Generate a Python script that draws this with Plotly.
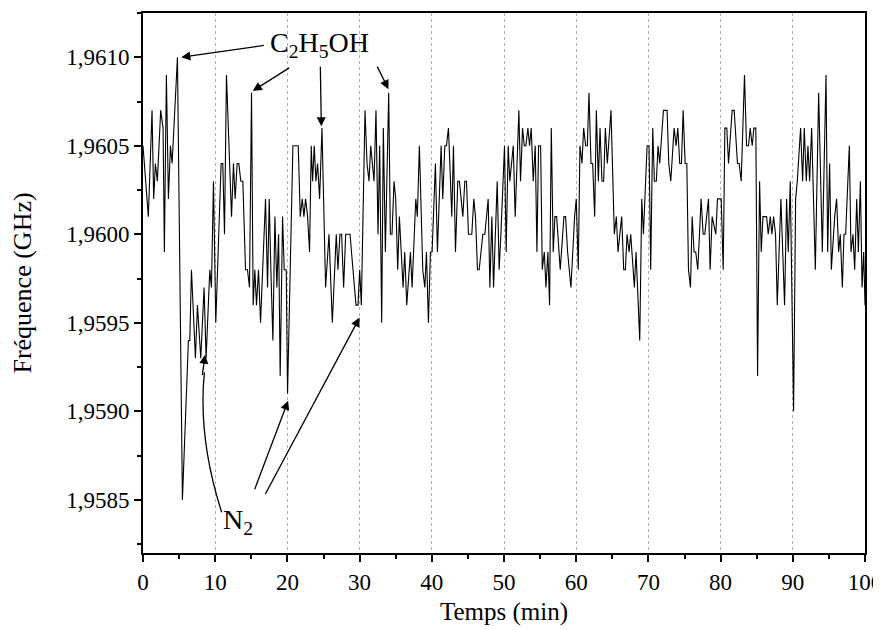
import plotly.graph_objects as go

# time (min) of each visible vertex of the trace
temps = [
    0.00, 0.74, 1.25, 1.48, 1.72, 1.99, 2.45, 2.78, 2.96, 3.24, 3.52, 3.80, 4.03, 4.77, 5.46,
    6.29, 6.48, 6.71, 7.26, 7.54, 8.00, 8.46, 8.74, 9.25, 9.48, 9.76, 10.08, 10.82, 11.05,
    11.29, 11.56, 12.26, 12.53, 12.76, 13.04, 13.27, 13.55, 13.83, 14.20, 14.47, 14.75, 15.03,
    15.26, 15.49, 15.72, 16.00, 16.28, 16.69, 16.97, 17.25, 17.48, 17.71, 17.99, 18.27, 18.54,
    18.78, 19.00, 19.33, 19.56, 19.84, 20.02, 20.76, 21.04, 21.50, 21.78, 22.06, 22.29, 22.52,
    22.80, 23.07, 23.30, 23.49, 23.72, 23.95, 24.18, 24.46, 24.79, 25.29, 25.76, 26.22, 26.77,
    27.00, 27.28, 27.51, 27.79, 28.07, 28.67,
    29.50, 29.78, 30.01, 30.24, 30.75, 31.03, 31.30, 31.54, 32.00, 32.27, 32.55, 32.78, 33.06,
    33.29, 33.57, 34.03, 34.26, 34.49, 34.77, 35.00, 35.28, 35.51, 35.79, 36.02, 36.25, 36.53,
    37.04, 37.27, 37.78, 38.00, 38.28, 38.75, 39.03, 39.26, 39.53, 39.81, 40.04, 40.50, 40.78,
    41.29, 41.52, 41.80, 42.03, 42.31,
    42.77, 43.00, 43.28, 43.60, 43.83, 44.30, 44.57, 44.80, 45.08, 45.54, 45.82, 46.05, 46.33,
    46.56, 47.07, 47.35, 47.81, 48.04, 48.32, 48.55, 49.06, 49.33, 49.57, 50.07, 50.30, 50.58,
    50.81, 51.28, 51.55, 52.06, 52.29, 52.57, 52.80, 53.03, 53.31, 53.54, 53.77, 54.05, 54.33,
    54.56, 54.79, 55.07, 55.30, 55.58, 55.81, 56.08, 56.31, 56.55, 56.82,
    57.05, 57.29, 57.79, 58.30, 58.53, 58.81, 59.27, 59.78, 60.01, 60.29, 60.52, 60.80, 61.03,
    61.31, 61.54, 61.77, 62.05, 62.28, 62.56, 62.79, 63.07, 63.30, 63.57, 63.80, 64.04, 64.31,
    64.82, 65.28, 65.56, 65.79, 66.30, 66.58, 66.81, 67.04, 67.32, 67.55, 68.06, 68.29, 68.80,
    69.08, 69.31, 69.82, 70.09, 70.32, 70.60, 70.83,
    71.10, 71.34, 71.57, 72.08, 72.59, 72.82, 73.10, 73.56, 73.84, 74.07, 74.34, 74.58, 74.81,
    75.09, 75.32, 75.55, 75.83, 76.06, 76.33, 76.56, 76.84, 77.30, 77.58, 77.81, 78.32, 78.55,
    78.83, 79.34, 79.57, 80.08, 80.36, 80.59, 80.86, 81.10, 81.60, 81.88, 82.34, 82.57, 82.85,
    83.31, 83.59, 83.87, 84.10, 84.38, 84.61, 84.88, 85.12, 85.40,
    85.63, 85.86, 86.09, 86.37, 86.60, 86.88, 87.10, 87.34, 87.61, 87.85, 88.35, 88.86, 89.14,
    89.37, 89.65, 90.11, 90.39, 90.62, 91.08, 91.36, 91.59, 91.87, 92.10, 92.33, 92.61, 93.12,
    93.58, 94.09, 94.60, 94.83, 95.10, 95.34, 95.80, 96.07, 96.35, 96.58, 96.86, 97.09, 97.32,
    97.83, 98.06, 98.34, 98.57, 98.85, 99.08, 99.36, 99.59, 99.82, 100.00,
]

# frequency (GHz) at each vertex
frequence = [
    1.9605, 1.9601, 1.9607, 1.9602, 1.9604, 1.9603, 1.9607, 1.9606, 1.9599, 1.9609, 1.9602, 1.9605, 1.9604, 1.9610, 1.9585,
    1.9594, 1.9594, 1.9598, 1.9593, 1.9596, 1.9593, 1.9597, 1.9593, 1.9598, 1.9597, 1.9603, 1.9595, 1.9604, 1.9604,
    1.9600, 1.9609, 1.9601, 1.9604, 1.9602, 1.9604, 1.9604, 1.9603, 1.9603, 1.9598, 1.9598, 1.9597, 1.9608,
    1.9596, 1.9598, 1.9596, 1.9598, 1.9595, 1.9599, 1.9602, 1.9597, 1.9602, 1.9598, 1.9594, 1.9601, 1.9597,
    1.9600, 1.9592, 1.9601, 1.9598, 1.9598, 1.9591, 1.9605, 1.9605, 1.9605, 1.9601, 1.9602, 1.9601, 1.9602,
    1.9601, 1.9599, 1.9605, 1.9603, 1.9605, 1.9603, 1.9604, 1.9602, 1.9606, 1.9597, 1.9600, 1.9595, 1.9600,
    1.9598, 1.9600, 1.9600, 1.9597, 1.9600, 1.9600,
    1.9596, 1.9596, 1.9598, 1.9596, 1.9607, 1.9604, 1.9603, 1.9605, 1.9603, 1.9607, 1.9600, 1.9605, 1.9595,
    1.9606, 1.9599, 1.9608, 1.9600, 1.9600, 1.9603, 1.9602, 1.9598, 1.9601, 1.9599, 1.9597, 1.9599, 1.9596,
    1.9599, 1.9597, 1.9602, 1.9601, 1.9605, 1.9598, 1.9597, 1.9599, 1.9595, 1.9599, 1.9599, 1.9604, 1.9599,
    1.9605, 1.9602, 1.9605, 1.9605, 1.9606,
    1.9601, 1.9605, 1.9599, 1.9603, 1.9603, 1.9601, 1.9603, 1.9603, 1.9600, 1.9600, 1.9602, 1.9601, 1.9598,
    1.9598, 1.9600, 1.9600, 1.9602, 1.9597, 1.9601, 1.9597, 1.9603, 1.9598, 1.9600, 1.9605, 1.9599, 1.9605,
    1.9603, 1.9605, 1.9601, 1.9607, 1.9603, 1.9606, 1.9605, 1.9605, 1.9606, 1.9605, 1.9606, 1.9603, 1.9605,
    1.9599, 1.9605, 1.9605, 1.9598, 1.9599, 1.9597, 1.9599, 1.9596, 1.9606, 1.9599,
    1.9601, 1.9601, 1.9598, 1.9601, 1.9601, 1.9599, 1.9597, 1.9601, 1.9602, 1.9598, 1.9605, 1.9604, 1.9606,
    1.9605, 1.9605, 1.9608, 1.9604, 1.9604, 1.9601, 1.9607, 1.9603, 1.9606, 1.9603, 1.9603, 1.9606, 1.9604,
    1.9607, 1.9600, 1.9601, 1.9599, 1.9601, 1.9598, 1.9598, 1.9600, 1.9599, 1.9600, 1.9597, 1.9599, 1.9594,
    1.9602, 1.9600, 1.9605, 1.9605, 1.9598, 1.9606, 1.9603,
    1.9603, 1.9605, 1.9604, 1.9607, 1.9607, 1.9604, 1.9603, 1.9606, 1.9605, 1.9606, 1.9604, 1.9604, 1.9607,
    1.9604, 1.9604, 1.9598, 1.9597, 1.9601, 1.9599, 1.9599, 1.9598, 1.9602, 1.9600, 1.9600, 1.9602, 1.9598,
    1.9601, 1.9600, 1.9602, 1.9602, 1.9598, 1.9606, 1.9606, 1.9604, 1.9607, 1.9607, 1.9604, 1.9604, 1.9603,
    1.9609, 1.9605, 1.9605, 1.9606, 1.9605, 1.9606, 1.9606, 1.9592, 1.9603,
    1.9599, 1.9601, 1.9601, 1.9601, 1.9600, 1.9601, 1.9600, 1.9601, 1.9600, 1.9596, 1.9602, 1.9596, 1.9602,
    1.9599, 1.9603, 1.9590, 1.9602, 1.9603, 1.9606, 1.9603, 1.9606, 1.9603, 1.9605, 1.9603, 1.9606, 1.9598,
    1.9608, 1.9599, 1.9609, 1.9599, 1.9604, 1.9598, 1.9601, 1.9602, 1.9599, 1.9600, 1.9597, 1.9600, 1.9600,
    1.9605, 1.9599, 1.9600, 1.9598, 1.9602, 1.9599, 1.9603, 1.9597, 1.9599, 1.9596,
]

x_ticks = [0, 10, 20, 30, 40, 50, 60, 70, 80, 90, 100]
y_ticks = [1.9585, 1.9590, 1.9595, 1.9600, 1.9605, 1.9610]

FONT = "Liberation Serif, Times New Roman, serif"

fig = go.Figure()
fig.add_trace(go.Scatter(x=temps, y=frequence, mode="lines",
                         line=dict(color="black", width=1.1), showlegend=False))

fig.update_layout(
    width=881, height=630,
    margin=dict(l=135, r=24, t=5, b=85),
    paper_bgcolor="white", plot_bgcolor="white",
    separators=", ",
    font=dict(family=FONT, size=23, color="black"),
)

fig.update_xaxes(
    range=[0, 100], tickvals=x_ticks, ticks="outside", ticklen=7, tickwidth=1.5,
    tickcolor="black", showline=True, linecolor="black", linewidth=2, mirror=True,
    showgrid=True, gridcolor="#b0b0b0", griddash="dot", gridwidth=1,
    minor=dict(ticks="outside", ticklen=4, tickwidth=1.5, tickcolor="black", dtick=5, showgrid=False),
    zeroline=False, automargin=False,
    title=dict(text="Temps (min)", font=dict(family=FONT, size=25), standoff=9),
    tickfont=dict(family=FONT, size=23),
)
fig.update_yaxes(
    range=[1.9582, 1.96125], tickvals=y_ticks, tickformat=".4f", ticks="outside",
    ticklen=7, tickwidth=1.5, tickcolor="black", showline=True, linecolor="black",
    linewidth=2, mirror=True, showgrid=False, zeroline=False, automargin=False,
    minor=dict(ticks="outside", ticklen=4, tickwidth=1.5, tickcolor="black", dtick=0.00025,
               tick0=1.9585, showgrid=False),
    title=dict(text="Fréquence (GHz)", font=dict(family=FONT, size=26), standoff=28),
    tickfont=dict(family=FONT, size=23),
)

arrow = dict(showarrow=True, arrowhead=2, arrowsize=1.4, arrowwidth=1.3, arrowcolor="black",
             text="", xref="x", yref="y")

# C2H5OH label and arrows
fig.add_annotation(x=24.5, y=1.96107, text="C<sub>2</sub>H<sub>5</sub>OH", showarrow=False,
                   font=dict(family=FONT, size=28), xref="x", yref="y")
fig.add_annotation(x=5.3, y=1.9610, ax=84, ay=-12, **arrow)
fig.add_annotation(x=15.2, y=1.96081, ax=38, ay=-24, **arrow)
fig.add_annotation(x=24.7, y=1.96061, ax=-1, ay=-61, **arrow)
fig.add_annotation(x=34.0, y=1.96082, ax=-12, ay=-24, **arrow)

# N2 label and arrows
fig.add_annotation(x=13.2, y=1.95838, text="N<sub>2</sub>", showarrow=False,
                   font=dict(family=FONT, size=28), xref="x", yref="y")
fig.add_annotation(x=20.1, y=1.95906, ax=-34, ay=90, **arrow)
fig.add_annotation(x=30.0, y=1.95953, ax=-95, ay=178, **arrow)
fig.add_annotation(x=8.6, y=1.95932, ax=-3, ay=22, **arrow)
fig.add_shape(type="path", xref="x", yref="y",
              path="M 10.9,1.95843 Q 7.6,1.95885 8.5,1.95922",
              line=dict(color="black", width=1.3))

fig.write_html("out.html")
